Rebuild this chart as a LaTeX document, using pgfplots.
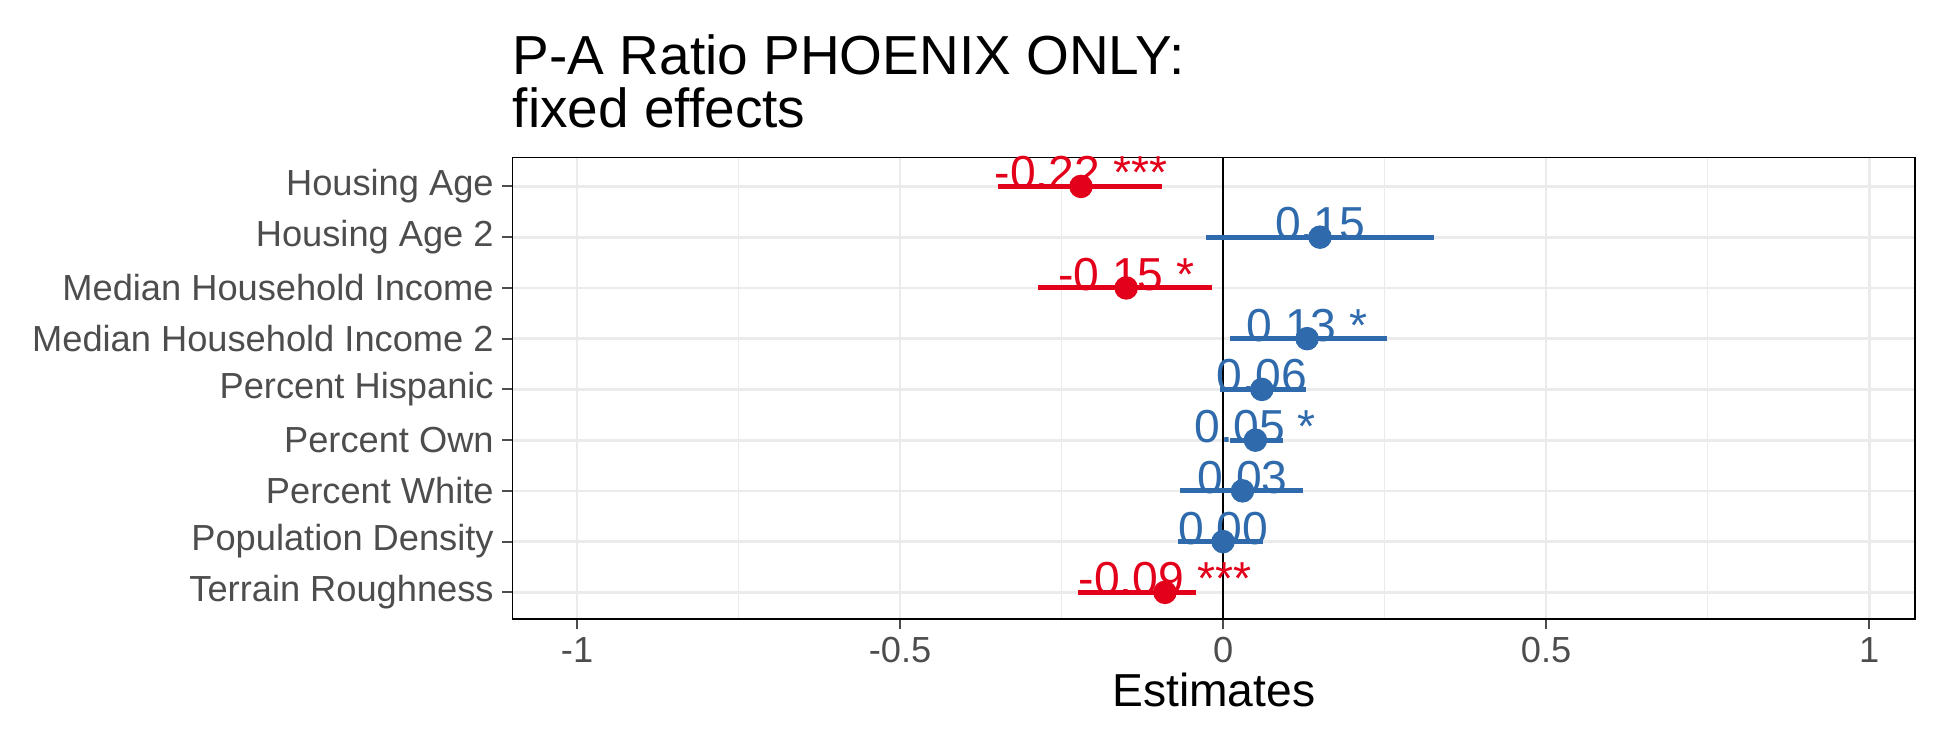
\documentclass[border=0pt]{standalone}
\usepackage{pgfplots}
\pgfplotsset{compat=1.18}
\usepackage{pgfplotstable}
\usepackage{fontspec}
\setmainfont{Liberation Sans}
\definecolor{cred}{HTML}{E2001A}
\definecolor{cblue}{HTML}{2F6AAC}
\definecolor{tgray}{HTML}{4D4D4D}
\definecolor{ggray}{HTML}{EBEBEB}
\pgfplotstableread{
x y ep em lab
-0.22 1 0.126 0.129 {-0.22 ***}
-0.15 3 0.133 0.137 {-0.15 *}
-0.09 9 0.048 0.134 {-0.09 ***}
}\redtab
\pgfplotstableread{
x y ep em lab
0.15 2 0.177 0.177 {0.15}
0.13 4 0.124 0.120 {0.13 *}
0.06 5 0.069 0.065 {0.06}
0.05 6 0.042 0.040 {0.05 *}
0.03 7 0.094 0.097 {0.03}
0.00 8 0.062 0.070 {0.00}
}\bluetab
\begin{document}
\begin{tikzpicture}
\begin{axis}[
  at={(0,0)}, anchor=south west,
  scale only axis, width=561pt, height=184.5pt,
  xmin=-1.1, xmax=1.071, ymin=0.43, ymax=9.52, y dir=reverse,
  xtick={-1,-0.5,0,0.5,1}, xticklabels={-1,-0.5,0,0.5,1},
  minor xtick={-0.75,-0.25,0.25,0.75},
  ytick={1,...,9},
  yticklabels={Housing Age,Housing Age 2,Median Household Income,Median Household Income 2,Percent Hispanic,Percent Own,Percent White,Population Density,Terrain Roughness},
  tick label style={font=\fontsize{14.5}{16}\selectfont, color=tgray},
  xlabel={Estimates}, xlabel style={font=\fontsize{18.5}{20}\selectfont, yshift=3pt},
  grid=both,
  major grid style={ggray, line width=1.1pt},
  minor grid style={ggray, line width=0.6pt},
  tick align=outside, tick pos=left,
  major tick length=4pt, minor tick length=0pt,
  tick style={color=tgray, line width=0.8pt},
  axis line style={line width=0.6pt, black},
  clip=false,
]
\draw[black, line width=0.7pt] (axis cs:0,0.43) -- (axis cs:0,9.52);
\addplot[cred, line width=2pt, mark=none, draw=none,
  error bars/.cd, x dir=both, x explicit, error mark=none,
  error bar style={line width=2pt, cred}]
  table[x=x, y=y, x error plus=ep, x error minus=em] {\redtab};
\addplot[cblue, line width=2pt, mark=none, draw=none,
  error bars/.cd, x dir=both, x explicit, error mark=none,
  error bar style={line width=2pt, cblue}]
  table[x=x, y=y, x error plus=ep, x error minus=em] {\bluetab};
\addplot[only marks, mark=*, mark size=4.5pt, cred,
  point meta=explicit symbolic, nodes near coords,
  nodes near coords style={anchor=base, yshift=-1pt, font=\fontsize{18.5}{20}\selectfont, text=cred, inner sep=0pt}]
  table[x=x, y=y, meta=lab] {\redtab};
\addplot[only marks, mark=*, mark size=4.5pt, cblue,
  point meta=explicit symbolic, nodes near coords,
  nodes near coords style={anchor=base, yshift=-1pt, font=\fontsize{18.5}{20}\selectfont, text=cblue, inner sep=0pt}]
  table[x=x, y=y, meta=lab] {\bluetab};
\end{axis}
\node[anchor=north west, inner sep=0pt, align=left, font=\fontsize{22}{21.5}\selectfont] at (0pt,234pt) {P-A Ratio PHOENIX ONLY:\\fixed effects};
\path[use as bounding box] (-205pt,-52.5pt) rectangle (575pt,247.5pt);
\end{tikzpicture}
\end{document}
